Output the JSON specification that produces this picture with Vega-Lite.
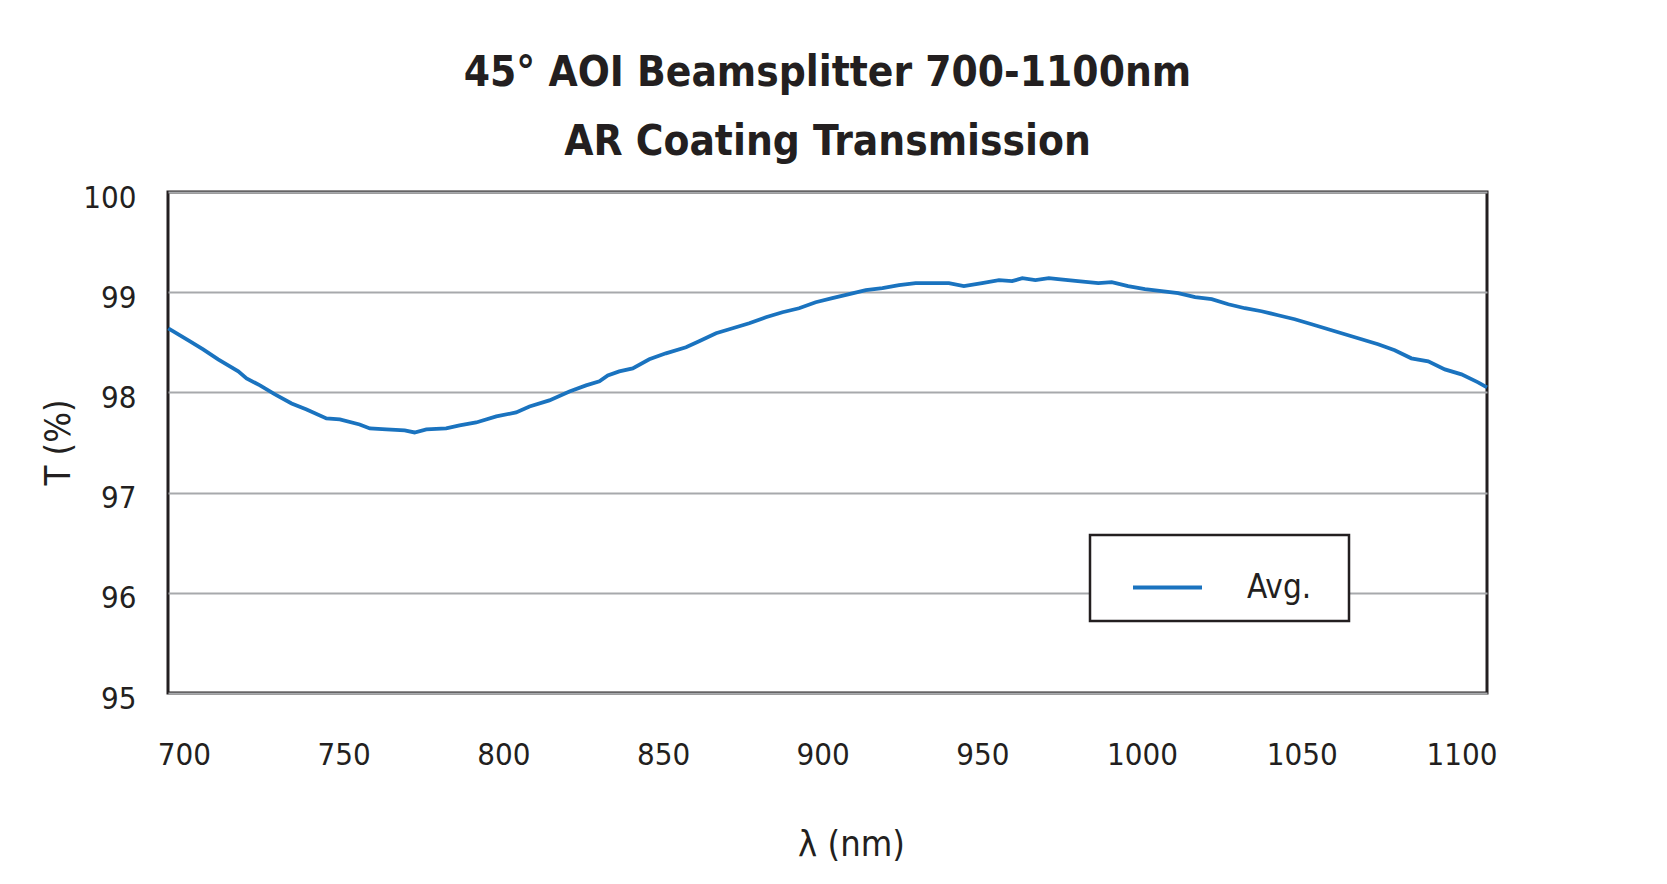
{
  "$schema": "https://vega.github.io/schema/vega-lite/v6.json",
  "autosize": {"type": "none"},
  "padding": {"left": 168, "top": 192, "right": 180, "bottom": 191},
  "width": 1319,
  "height": 501,
  "background": "white",
  "title": {
    "text": ["45° AOI Beamsplitter 700-1100nm", "AR Coating Transmission"],
    "anchor": "middle",
    "font": "'DejaVu Sans Condensed', 'Liberation Sans Narrow', 'Roboto Condensed', Roboto",
    "fontWeight": "bold",
    "fontSize": 42,
    "lineHeight": 69,
    "color": "#231f20",
    "offset": 18
  },
  "config": {
    "view": {"stroke": "#231f20", "strokeWidth": 3},
    "axis": {
      "labelFont": "'DejaVu Sans Condensed', 'Liberation Sans Narrow', 'Roboto Condensed', Roboto",
      "titleFont": "'DejaVu Sans Condensed', 'Liberation Sans Narrow', 'Roboto Condensed', Roboto",
      "labelColor": "#231f20",
      "titleColor": "#231f20",
      "labelFontSize": 31,
      "titleFontSize": 36,
      "titleFontWeight": "normal",
      "ticks": false,
      "domain": false
    },
    "legend": {
      "labelFont": "'DejaVu Sans Condensed', 'Liberation Sans Narrow', 'Roboto Condensed', Roboto"
    }
  },
  "data": {
    "values": [
      {"nm": 695.1, "T": 98.64}, {"nm": 701.9, "T": 98.51}, {"nm": 706.0, "T": 98.43},
      {"nm": 710.7, "T": 98.33}, {"nm": 717.0, "T": 98.21}, {"nm": 719.6, "T": 98.14},
      {"nm": 723.8, "T": 98.07}, {"nm": 728.5, "T": 97.98}, {"nm": 733.7, "T": 97.89},
      {"nm": 738.4, "T": 97.83}, {"nm": 744.6, "T": 97.74}, {"nm": 748.8, "T": 97.73},
      {"nm": 755.0, "T": 97.68}, {"nm": 758.2, "T": 97.64}, {"nm": 763.4, "T": 97.63},
      {"nm": 769.1, "T": 97.62}, {"nm": 772.2, "T": 97.60}, {"nm": 775.9, "T": 97.63},
      {"nm": 782.1, "T": 97.64}, {"nm": 786.3, "T": 97.67}, {"nm": 791.5, "T": 97.70},
      {"nm": 797.8, "T": 97.76}, {"nm": 804.0, "T": 97.80}, {"nm": 808.2, "T": 97.86},
      {"nm": 814.4, "T": 97.92}, {"nm": 820.7, "T": 98.01}, {"nm": 825.9, "T": 98.07},
      {"nm": 830.1, "T": 98.11}, {"nm": 832.7, "T": 98.17}, {"nm": 836.3, "T": 98.21},
      {"nm": 840.5, "T": 98.24}, {"nm": 845.7, "T": 98.33}, {"nm": 850.9, "T": 98.39},
      {"nm": 857.2, "T": 98.45}, {"nm": 861.3, "T": 98.51}, {"nm": 866.6, "T": 98.59},
      {"nm": 871.8, "T": 98.64}, {"nm": 877.0, "T": 98.69}, {"nm": 882.2, "T": 98.75},
      {"nm": 887.4, "T": 98.80}, {"nm": 892.6, "T": 98.84}, {"nm": 897.8, "T": 98.90},
      {"nm": 903.0, "T": 98.94}, {"nm": 908.3, "T": 98.98}, {"nm": 913.5, "T": 99.02},
      {"nm": 918.7, "T": 99.04}, {"nm": 923.9, "T": 99.07}, {"nm": 929.1, "T": 99.09},
      {"nm": 934.3, "T": 99.09}, {"nm": 939.5, "T": 99.09}, {"nm": 944.2, "T": 99.06},
      {"nm": 949.9, "T": 99.09}, {"nm": 955.2, "T": 99.12}, {"nm": 959.3, "T": 99.11},
      {"nm": 962.5, "T": 99.14}, {"nm": 966.6, "T": 99.12}, {"nm": 970.8, "T": 99.14},
      {"nm": 973.7, "T": 99.13}, {"nm": 979.9, "T": 99.11}, {"nm": 986.3, "T": 99.09},
      {"nm": 990.5, "T": 99.10}, {"nm": 995.6, "T": 99.06}, {"nm": 1000.9, "T": 99.03},
      {"nm": 1006.1, "T": 99.01}, {"nm": 1011.3, "T": 98.99}, {"nm": 1016.6, "T": 98.95},
      {"nm": 1021.8, "T": 98.93}, {"nm": 1027.0, "T": 98.88}, {"nm": 1032.2, "T": 98.84},
      {"nm": 1037.4, "T": 98.81}, {"nm": 1042.6, "T": 98.77}, {"nm": 1047.8, "T": 98.73},
      {"nm": 1053.1, "T": 98.68}, {"nm": 1058.3, "T": 98.63}, {"nm": 1063.5, "T": 98.58},
      {"nm": 1068.7, "T": 98.53}, {"nm": 1073.9, "T": 98.48}, {"nm": 1079.1, "T": 98.42},
      {"nm": 1084.3, "T": 98.34}, {"nm": 1089.6, "T": 98.31}, {"nm": 1094.8, "T": 98.23},
      {"nm": 1100.0, "T": 98.18}, {"nm": 1105.2, "T": 98.10}, {"nm": 1108.0, "T": 98.05}
    ]
  },
  "mark": {"type": "line", "strokeWidth": 3.8, "interpolate": "linear"},
  "encoding": {
    "x": {
      "field": "nm",
      "type": "quantitative",
      "scale": {"domain": [695, 1108], "nice": false, "zero": false},
      "axis": {
        "title": "λ (nm)",
        "format": "d",
        "values": [700, 750, 800, 850, 900, 950, 1000, 1050, 1100],
        "grid": false,
        "labelPadding": 47,
        "titleX": 683,
        "titleY": 151,
        "titleBaseline": "middle",
        "titleAlign": "center"
      }
    },
    "y": {
      "field": "T",
      "type": "quantitative",
      "scale": {"domain": [95, 100], "nice": false, "zero": false},
      "axis": {
        "title": "T (%)",
        "format": "d",
        "values": [95, 96, 97, 98, 99, 100],
        "grid": true,
        "gridColor": "#a7a9ac",
        "gridWidth": 2,
        "labelPadding": 32,
        "labelOffset": 6,
        "titleX": -110,
        "titleY": 250,
        "titleAngle": -90,
        "titleBaseline": "middle",
        "titleAlign": "center"
      }
    },
    "color": {
      "datum": "Avg.",
      "scale": {"range": ["#1a73bf"]},
      "legend": {
        "title": null,
        "orient": "none",
        "legendX": 922,
        "legendY": 343,
        "fillColor": "white",
        "strokeColor": "#231f20",
        "padding": 16,
        "symbolType": "stroke",
        "symbolSize": 4761,
        "symbolStrokeWidth": 4,
        "symbolStrokeColor": "#1a5ea8",
        "symbolOffset": 25,
        "labelOffset": 43,
        "labelFontSize": 33,
        "labelColor": "#231f20",
        "labelExpr": "datum.label + '\u2800'",
        "encode": {"legend": {"update": {"strokeWidth": {"value": 2.5}}}}
      }
    }
  }
}
